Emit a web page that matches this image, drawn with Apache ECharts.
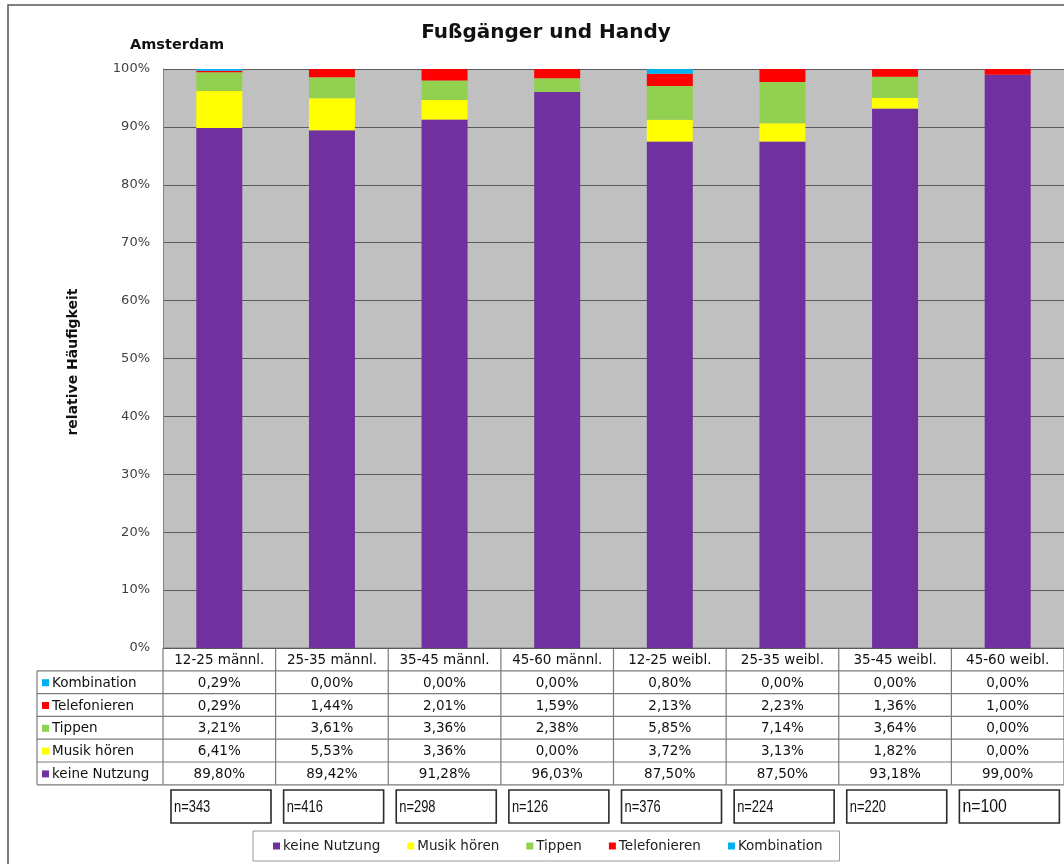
<!DOCTYPE html>
<html><head><meta charset="utf-8">
<script src="https://cdn.jsdelivr.net/npm/echarts@6/dist/echarts.min.js"></script>
<style>html,body{margin:0;padding:0;background:#fff}#c{width:1064px;height:864px}</style>
</head><body><div id="c"></div>
<script>
const categories = ['12-25 männl.','25-35 männl.','35-45 männl.','45-60 männl.','12-25 weibl.','25-35 weibl.','35-45 weibl.','45-60 weibl.'];
const keineNutzung = [89.80,89.42,91.28,96.03,87.50,87.50,93.18,99.00];
const musikHoeren  = [6.41,5.53,3.36,0.00,3.72,3.13,1.82,0.00];
const tippen       = [3.21,3.61,3.36,2.38,5.85,7.14,3.64,0.00];
const telefonieren = [0.29,1.44,2.01,1.59,2.13,2.23,1.36,1.00];
const kombination  = [0.29,0.00,0.00,0.00,0.80,0.00,0.00,0.00];
const sampleSizes  = ['n=343','n=416','n=298','n=126','n=376','n=224','n=220','n=100'];
const seriesNames  = ['keine Nutzung','Musik hören','Tippen','Telefonieren','Kombination'];
const seriesColors = ['#7030a0','#ffff00','#92d050','#ff0000','#00b0f0'];

const seriesData = [keineNutzung, musikHoeren, tippen, telefonieren, kombination];
const FONT = '"DejaVu Sans", Verdana, sans-serif';
const NFONT = '"Liberation Sans", Arial, sans-serif';
const GL = 163, GT = 69, GB = 648, GR = 1064;
const colW = (GR - GL) / categories.length;
const rowH = 22.8;
const fmt = v => v.toFixed(2).replace('.', ',') + '%';

const chart = echarts.init(document.getElementById('c'), null, {renderer: 'canvas'});

function txt(x, y, text, font, align, extra) {
  return Object.assign({type:'text', x:x, y:y, style:{text:text, font:font, fill:'#111', align:align, verticalAlign:'middle', textAlign:align, textVerticalAlign:'middle'}}, extra || {});
}

const g = [];
// outer frame
g.push({type:'rect', shape:{x:8, y:5, width:1120, height:900}, style:{fill:'none', stroke:'#555', lineWidth:1.5}, z:0});
// titles
g.push(txt(546, 33, 'Fußgänger und Handy', 'bold 20px ' + FONT, 'center'));
g.push(txt(130, 45, 'Amsterdam', 'bold 14.5px ' + FONT, 'left'));
// y axis name
g.push(txt(73, 362, 'relative Häufigkeit', 'bold 14px ' + FONT, 'center', {rotation: Math.PI/2}));

// table
const tableRows = [
  {name:'Kombination', idx:4},
  {name:'Telefonieren', idx:3},
  {name:'Tippen', idx:2},
  {name:'Musik hören', idx:1},
  {name:'keine Nutzung', idx:0}
];
const lineStyle = {stroke:'#7a7a7a', lineWidth:1.2};
const tTop = GB, labelLeft = 37;
const tBottom = tTop + rowH * (tableRows.length + 1);
for (let i = 0; i <= categories.length; i++) {
  const x = GL + i * colW;
  g.push({type:'line', shape:{x1:x, y1:tTop, x2:x, y2:tBottom}, style:lineStyle});
}
g.push({type:'line', shape:{x1:labelLeft, y1:tTop+rowH, x2:labelLeft, y2:tBottom}, style:lineStyle});
for (let r = 0; r <= tableRows.length + 1; r++) {
  const y = tTop + r * rowH;
  g.push({type:'line', shape:{x1: r === 0 ? GL : labelLeft, y1:y, x2:GR, y2:y}, style:lineStyle});
}
categories.forEach((c, i) => {
  g.push(txt(GL + (i + 0.5) * colW, tTop + rowH/2 + 1, c, '13.5px ' + FONT, 'center'));
});
tableRows.forEach((row, r) => {
  const yc = tTop + (r + 1.5) * rowH + 1;
  g.push({type:'rect', shape:{x:labelLeft + 5, y:yc - 4, width:7, height:7}, style:{fill:seriesColors[row.idx]}});
  g.push(txt(labelLeft + 15, yc, row.name, '13.5px ' + FONT, 'left'));
  seriesData[row.idx].forEach((v, i) => {
    g.push(txt(GL + (i + 0.5) * colW, yc, fmt(v), '13.5px ' + FONT, 'center'));
  });
});
// n boxes
sampleSizes.forEach((s, i) => {
  const x0 = GL + i * colW + 8;
  const last = i === sampleSizes.length - 1;
  g.push({type:'rect', shape:{x:x0, y:790, width:100, height:33}, style:{fill:'#fff', stroke:'#2a2a2a', lineWidth:1.6}});
  g.push(txt(x0 + 3, 807, s, (last ? '18px ' : '17px ') + NFONT, 'left', {scaleX: last ? 0.88 : 0.76}));
});

const option = {
  animation: false,
  backgroundColor: '#fff',
  grid: {left: GL, top: GT, right: 1064 - GR, bottom: 864 - GB, show: true, backgroundColor: '#c0c0c0', borderWidth: 0},
  xAxis: {
    type: 'category', data: categories,
    axisLine: {show: false}, axisTick: {show: false}, axisLabel: {show: false}, splitLine: {show: false}
  },
  yAxis: {
    type: 'value', min: 0, max: 100, interval: 10,
    axisLine: {show: true, lineStyle: {color: '#808080', width: 1}},
    axisTick: {show: false},
    axisLabel: {formatter: '{value}%', color: '#404040', fontSize: 13, fontFamily: FONT, margin: 13},
    splitLine: {show: true, lineStyle: {color: '#5a5a5a', width: 1.2}}
  },
  legend: {
    data: seriesNames, left: 253, top: 831, orient: 'horizontal',
    padding: [8, 17, 8, 20], itemGap: 27, itemWidth: 7, itemHeight: 7, icon: 'rect',
    borderColor: '#999', borderWidth: 1, backgroundColor: '#fff',
    textStyle: {fontSize: 13.5, fontFamily: FONT, color: '#222', padding: [0, 0, 0, -2]},
    selectedMode: false
  },
  series: seriesNames.map((n, k) => ({
    name: n, type: 'bar', stack: 'all', barWidth: 46,
    itemStyle: {color: seriesColors[k]},
    data: seriesData[k]
  })),
  graphic: g
};
chart.setOption(option);
</script></body></html>
